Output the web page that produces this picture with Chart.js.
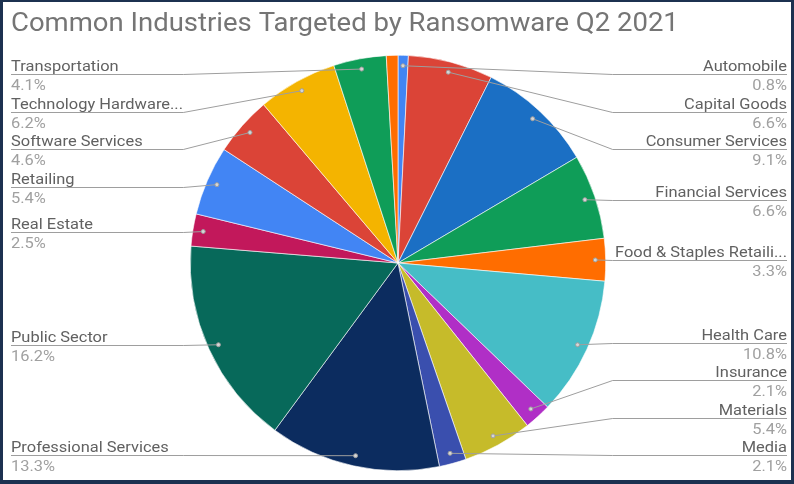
<!DOCTYPE html>
<html>
<head>
<meta charset="utf-8">
<script src="https://cdn.jsdelivr.net/npm/chart.js@4.4.1/dist/chart.umd.min.js"></script>
<style>
  html, body { margin: 0; padding: 0; background: #fff; }
  #wrap {
    width: 794px; height: 484px; box-sizing: border-box;
    border: solid #1c3150; border-width: 2px 3px 4px 3px;
    background: #fff;
  }
  canvas { display: block; }
</style>
</head>
<body>
<div id="wrap"><canvas id="chart" width="788" height="478"></canvas></div>
<script>
const chartTitle = 'Common Industries Targeted by Ransomware Q2 2021';

// slices in clockwise order from 12 o'clock
const categories = [
  'Automobile', 'Capital Goods', 'Consumer Services', 'Financial Services',
  'Food & Staples Retaili...', 'Health Care', 'Insurance', 'Materials', 'Media',
  'Professional Services', 'Public Sector', 'Real Estate', 'Retailing',
  'Software Services', 'Technology Hardware...', 'Transportation', 'Utilities'
];
const shares = [0.8, 6.6, 9.1, 6.6, 3.3, 10.8, 2.1, 5.4, 2.1, 13.3, 16.2, 2.5, 5.4, 4.6, 6.2, 4.1, 0.9];
// the last thin slice has no label in the original
const labelShown = [true, true, true, true, true, true, true, true, true,
                    true, true, true, true, true, true, true, false];

const sliceColors = [
  '#4285f4', '#db4437', '#1b6fc4', '#0f9d58', '#ff6d00', '#46bdc6', '#b02fc6',
  '#c6bb2a', '#3a4fae', '#0c2c5f', '#07695a', '#c2185b', '#4285f4', '#db4437',
  '#f4b400', '#0f9d58', '#ff6d00'
];

// the screenshot is a bit wider than tall, so text gets a small x stretch
function stretchedText(ctx, text, x, y, sx) {
  ctx.save();
  ctx.translate(x, y);
  ctx.scale(sx, 1);
  ctx.fillText(text, 0, 0);
  ctx.restore();
}

const labelPlugin = {
  id: 'sideLabels',
  afterDraw(chart) {
    const ctx = chart.ctx;
    const meta = chart.getDatasetMeta(0);
    const W = chart.width;

    // title
    ctx.save();
    ctx.font = '400 25px Roboto';
    ctx.fillStyle = '#757575';
    ctx.textAlign = 'left';
    ctx.textBaseline = 'alphabetic';
    stretchedText(ctx, chartTitle, 8, 29, 1.1);
    ctx.restore();

    const left = [], right = [];
    let cx = 0, cy = 0, r = 0;
    meta.data.forEach((arc, i) => {
      cx = arc.x; cy = arc.y; r = arc.outerRadius;
      if (!labelShown[i]) return;
      const mid = (arc.startAngle + arc.endAngle) / 2;
      const dx = arc.x + Math.cos(mid) * arc.outerRadius * 0.95;
      const dy = arc.y + Math.sin(mid) * arc.outerRadius * 0.95;
      (Math.cos(mid) >= 0 ? right : left).push({ i, dx, dy });
    });

    const gap = 37.5, topY = 72, botY = 453;
    function layout(list) {
      list.sort((a, b) => a.dy - b.dy);
      list.forEach((it, k) => {
        let y = Math.max(it.dy, topY);
        if (k > 0) y = Math.max(y, list[k - 1].ly + gap);
        it.ly = y;
      });
      for (let k = list.length - 1; k >= 0; k--) {
        let y = Math.min(list[k].ly, botY);
        if (k < list.length - 1) y = Math.min(y, list[k + 1].ly - gap);
        list[k].ly = y;
      }
    }
    layout(left);
    layout(right);

    function drawSide(list, isRight) {
      const elbowX = isRight ? cx + r + 7 : cx - r - 7;
      const edgeX = isRight ? W - 4 : 8;
      list.forEach(it => {
        const y = Math.round(it.ly) + 0.5;
        ctx.save();
        ctx.strokeStyle = '#9e9e9e';
        ctx.lineWidth = 1;
        ctx.beginPath();
        ctx.moveTo(it.dx, it.dy);
        ctx.lineTo(elbowX, y);
        ctx.lineTo(edgeX, y);
        ctx.stroke();
        ctx.beginPath();
        ctx.arc(it.dx, it.dy, 2, 0, Math.PI * 2);
        ctx.fillStyle = '#d6d6d6';
        ctx.fill();
        ctx.strokeStyle = '#9e9e9e';
        ctx.stroke();

        ctx.textAlign = isRight ? 'right' : 'left';
        ctx.textBaseline = 'alphabetic';
        ctx.font = '400 15.5px Roboto';
        ctx.fillStyle = '#616161';
        stretchedText(ctx, categories[it.i], edgeX, y - 4, 1.06);
        ctx.fillStyle = '#a0a0a0';
        stretchedText(ctx, shares[it.i].toFixed(1) + '%', edgeX, y + 15, 1.06);
        ctx.restore();
      });
    }
    drawSide(left, false);
    drawSide(right, true);
  }
};

new Chart(document.getElementById('chart'), {
  type: 'pie',
  data: {
    labels: categories,
    datasets: [{
      data: shares,
      backgroundColor: sliceColors,
      borderColor: '#ffffff',
      borderWidth: 0.6
    }]
  },
  options: {
    responsive: false,
    animation: false,
    layout: { padding: { left: 187, right: 185, top: 53, bottom: 9 } },
    plugins: {
      legend: { display: false },
      title: { display: false },
      tooltip: { enabled: false }
    }
  },
  plugins: [labelPlugin]
});
</script>
</body>
</html>
